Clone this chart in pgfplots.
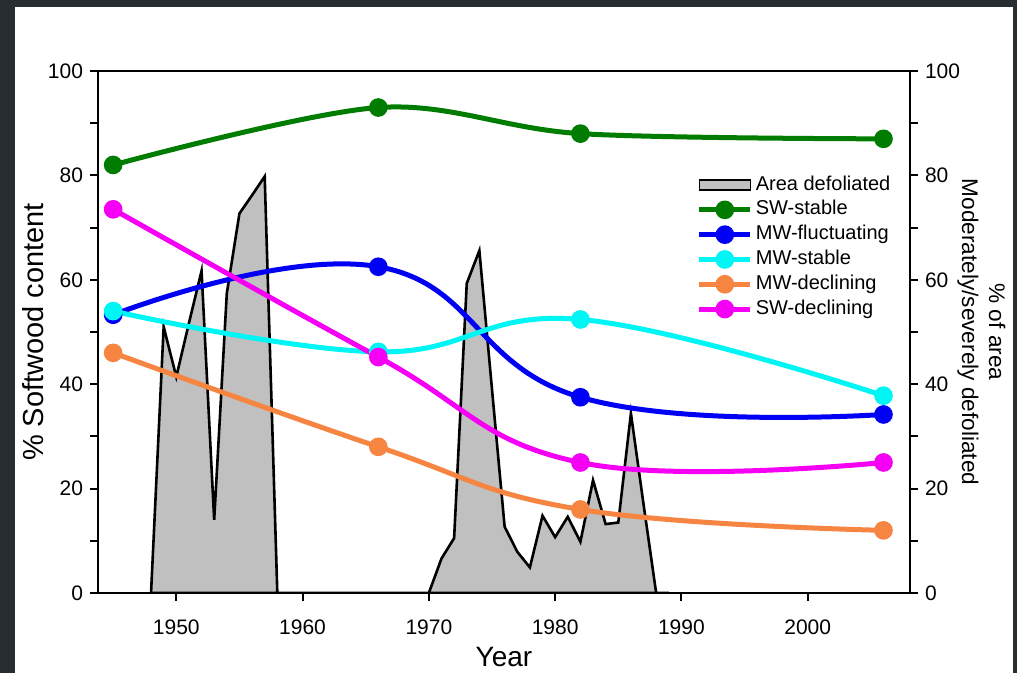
\documentclass[border=0pt]{standalone}
\usepackage{fontspec}
\setmainfont{Liberation Sans}
\usepackage{pgfplots}
\pgfplotsset{compat=1.18}
\definecolor{bgdark}{RGB}{40,45,50}
\definecolor{cgreen}{RGB}{0,125,0}
\definecolor{cblue}{RGB}{0,0,245}
\definecolor{ccyan}{RGB}{0,245,245}
\definecolor{corange}{RGB}{247,133,66}
\definecolor{cmag}{RGB}{245,0,245}
\definecolor{silv}{RGB}{192,192,192}
\pgfplotsset{
  common/.style={
    at={(0,0)}, anchor=south west, scale only axis,
    width=406pt, height=261pt,
    xmin=1943.8, xmax=2008.1, ymin=0, ymax=100,
    axis line style={line width=1pt},
    every tick/.style={black, line width=1pt},
    tick align=outside,
    major tick length=4pt, minor tick length=4pt,
    ytick={0,20,...,100}, minor y tick num=1,
    xtick={1950,1960,...,2000},
    /pgf/number format/assume math mode=true,
    /pgf/number format/set thousands separator={},
    tick label style={font=\fontsize{10.5}{12}\selectfont},
    x tick label style={yshift=-6pt},
  },
  ln/.style={line width=2.5pt, smooth, tension=0.7, mark=*, mark size=3.4pt, mark options={solid}},
}
\begin{document}
\begin{tikzpicture}
\fill[bgdark] (-49pt,-40pt) rectangle (459.5pt,296.5pt);
\fill[white] (-41.5pt,-40pt) rectangle (457.5pt,293pt);
\useasboundingbox (-49pt,-40pt) rectangle (459.5pt,296.5pt);
\begin{axis}[common,
  xtick pos=bottom, ytick pos=left,
  xlabel={Year}, ylabel={\% Softwood content},
  xlabel style={at={(axis description cs:0.5,-0.1226)}, anchor=center, font=\fontsize{14}{16}\selectfont},
  ylabel style={at={(axis description cs:-0.080,0.5)}, anchor=center, font=\fontsize{14.5}{16}\selectfont},
  legend style={at={(0.737,0.806)}, anchor=north west, draw=none, fill=none,
    font=\fontsize{10}{12}\selectfont, row sep=0pt, inner sep=0pt,
    nodes={text height=7.2pt, text depth=2.2pt, inner sep=1.5pt},
    cells={anchor=west}},
]
\addplot[fill=silv, draw=black, line width=1.3pt,
  legend image code/.code={\draw[fill=silv, draw=black, line width=0.6pt] (0pt,-2.5pt) rectangle (25.5pt,2.5pt);}]
coordinates {
(1948,0) (1949,51) (1950,41.4) (1951,51.7) (1952,61.7) (1953,14) (1954,57.4)
(1955,72.7) (1956,76.2) (1957,79.8) (1958,0) (1970,0) (1971,6.6) (1972,10.5)
(1973,59.3) (1974,65.6) (1975,39) (1976,12.7) (1977,7.9) (1978,4.9) (1979,14.8)
(1980,10.7) (1981,14.6) (1982,9.8) (1983,21.6) (1984,13.2) (1985,13.5) (1986,34.4)
(1987,17) (1988,0) (1989,0)
} \closedcycle;
\addlegendentry{Area defoliated}
\pgfplotsset{legend image code/.code={\draw[#1, mark=none] (0pt,0pt) -- (25.5pt,0pt); \draw[#1, only marks] plot coordinates {(12.75pt,0pt)};}}
\addplot[ln, tension=0.55, color=cgreen] coordinates {(1945,82) (1966,93) (1982,88) (2006,87)};
\addlegendentry{SW-stable}
\addplot[ln, tension=0.75, color=cblue] coordinates {(1945,53.3) (1966,62.5) (1982,37.5) (2006,34.2)};
\addlegendentry{MW-fluctuating}
\addplot[ln, color=ccyan] coordinates {(1945,54) (1966,46.2) (1982,52.4) (2006,37.8)};
\addlegendentry{MW-stable}
\addplot[ln, color=corange] coordinates {(1945,46) (1966,28) (1982,16) (2006,12)};
\addlegendentry{MW-declining}
\addplot[ln, color=cmag] coordinates {(1945,73.5) (1966,45.2) (1982,25) (2006,25)};
\addlegendentry{SW-declining}
\end{axis}
\begin{axis}[common,
  hide x axis, axis y line*=right, ytick pos=right,
  ylabel={\% of area\\Moderately/severely defoliated},
  ylabel style={at={(axis description cs:1.088,0.5)}, anchor=center, rotate=180, align=center,
    font=\fontsize{11.3}{13.5}\selectfont},
]
\addplot[draw=none] coordinates {(1950,0)};
\end{axis}
\end{tikzpicture}
\end{document}
